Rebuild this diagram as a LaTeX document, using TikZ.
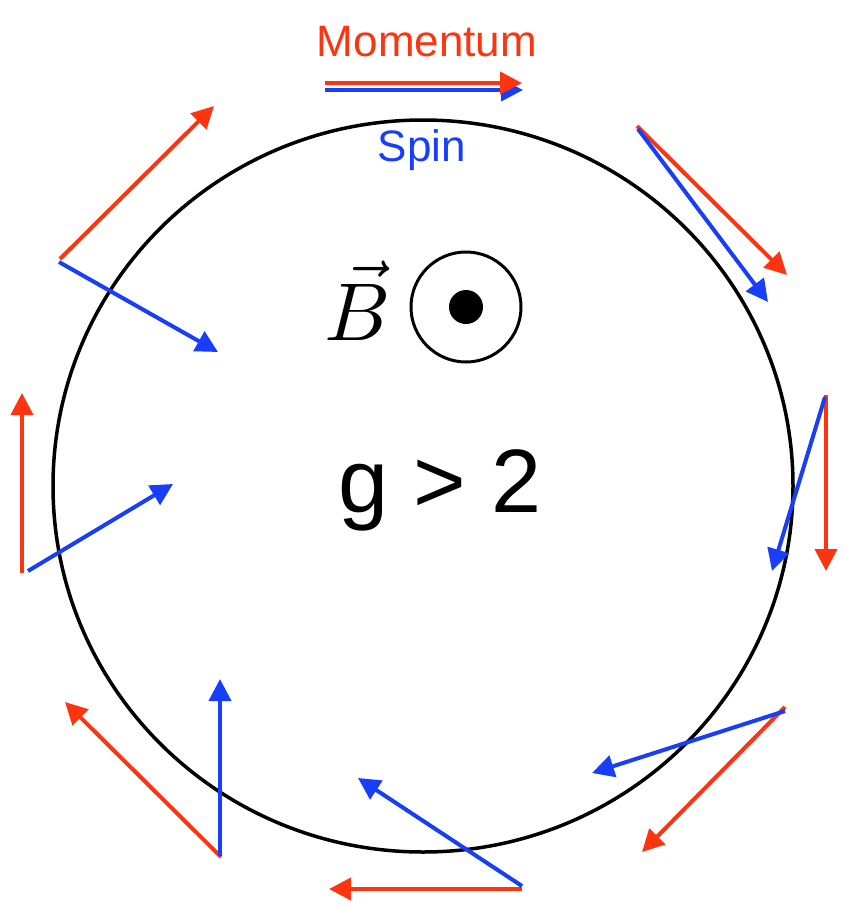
\documentclass[tikz,border=0pt]{standalone}
\usepackage{fontspec}
\newfontfamily\helv{Liberation Sans}
\usetikzlibrary{arrows.meta}
\definecolor{momred}{RGB}{252,52,16}
\definecolor{spinblue}{RGB}{24,62,250}
\tikzset{
  vecarrow/.style={line width=4pt,-{Triangle[length=22pt,width=22pt]}},
  mom/.style={vecarrow,draw=momred,fill=momred},
  spin/.style={vecarrow,draw=spinblue,fill=spinblue},
  lbl/.style={inner sep=0pt,font=\helv}
}
\begin{document}
\begin{tikzpicture}[x=1pt,y=-1pt]
\useasboundingbox (0,0) rectangle (845,908);
% orbit
\coordinate (orbitc) at (423,486);
\draw[line width=3.5pt] (orbitc) ellipse [x radius=370, y radius=366];
% labels
\node[lbl,text=momred,font=\helv\fontsize{44}{48}\selectfont] (momlbl) at (427,42) {Momentum};
\node[lbl,text=spinblue,font=\helv\fontsize{44}{48}\selectfont] (spinlbl) at (422,150) {Spin};
\node[lbl,font=\helv\fontsize{90}{96}\selectfont,anchor=base] (glbl) at (440,512) {g > 2};
\node[inner sep=0pt,anchor=base,scale=8.2] (blbl) at (358,340) {$\vec{B}$};
\node[draw=black,line width=3pt,circle,minimum size=110pt,inner sep=0pt] (bout) at (466,307) {};
\node[fill=black,circle,minimum size=34pt,inner sep=0pt] (bdot) at (466,307) {};
% arrow coordinates
\coordinate (m1a) at (325,83);  \coordinate (m1b) at (522,83);
\coordinate (s1a) at (325,90);  \coordinate (s1b) at (523,90);
\coordinate (m2a) at (637,126); \coordinate (m2b) at (787,275);
\coordinate (s2a) at (638,129); \coordinate (s2b) at (768,302);
\coordinate (m3a) at (826,395); \coordinate (m3b) at (826,571);
\coordinate (s3a) at (825,397); \coordinate (s3b) at (772,571);
\coordinate (m4a) at (785,707); \coordinate (m4b) at (642,852);
\coordinate (s4a) at (785,711); \coordinate (s4b) at (592,773);
\coordinate (m5a) at (522,889); \coordinate (m5b) at (329,889);
\coordinate (s5a) at (522,886); \coordinate (s5b) at (358,778);
\coordinate (m6a) at (221,857); \coordinate (m6b) at (65,702);
\coordinate (s6a) at (220,856); \coordinate (s6b) at (220,679);
\coordinate (m7a) at (22,573);  \coordinate (m7b) at (22,393);
\coordinate (s7a) at (28,571);  \coordinate (s7b) at (173,484);
\coordinate (m8a) at (60,259);  \coordinate (m8b) at (214,106);
\coordinate (s8a) at (59,262);  \coordinate (s8b) at (218,352);
% arrows
\draw[spin] (s1a) -- (s1b);
\draw[mom] (m1a) -- (m1b);
\draw[mom] (m2a) -- (m2b);
\draw[spin] (s2a) -- (s2b);
\draw[mom] (m3a) -- (m3b);
\draw[spin] (s3a) -- (s3b);
\draw[mom] (m4a) -- (m4b);
\draw[spin] (s4a) -- (s4b);
\draw[mom] (m5a) -- (m5b);
\draw[spin] (s5a) -- (s5b);
\draw[mom] (m6a) -- (m6b);
\draw[spin] (s6a) -- (s6b);
\draw[mom] (m7a) -- (m7b);
\draw[spin] (s7a) -- (s7b);
\draw[mom] (m8a) -- (m8b);
\draw[spin] (s8a) -- (s8b);
\end{tikzpicture}
\end{document}
